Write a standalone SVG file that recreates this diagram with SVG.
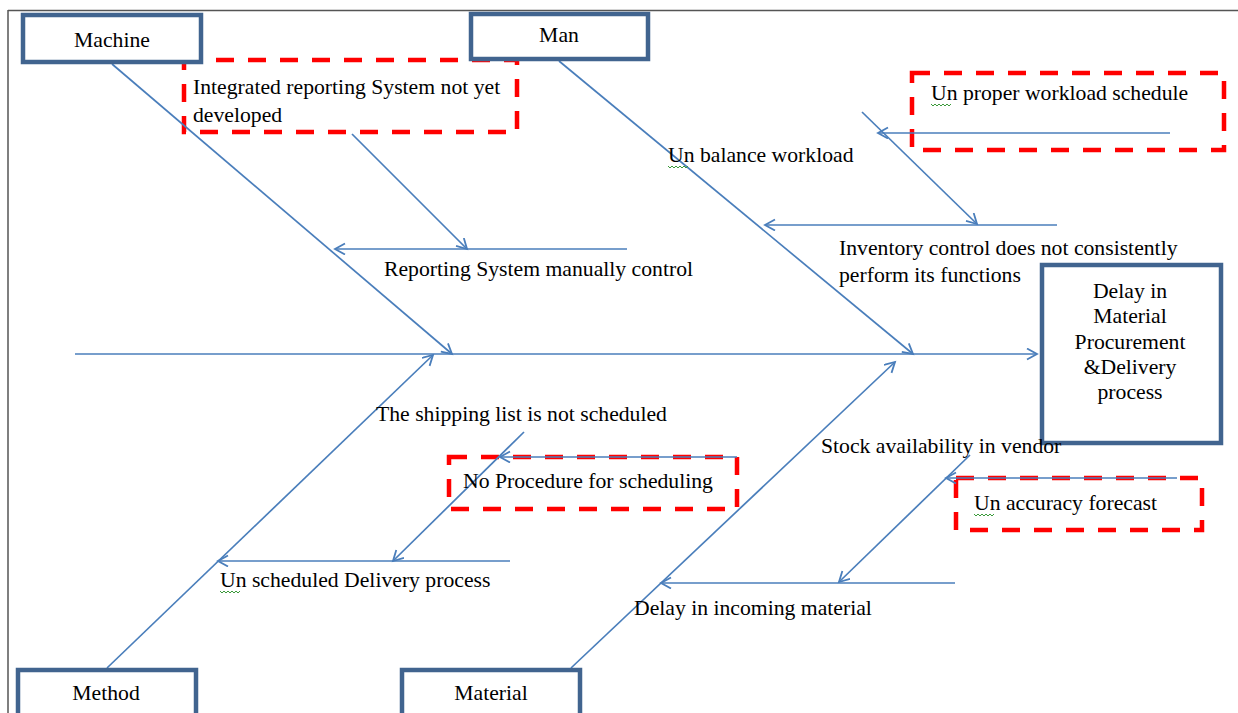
<svg xmlns="http://www.w3.org/2000/svg" width="1238" height="713" viewBox="0 0 1238 713">
<defs>
<marker id="arr" markerUnits="userSpaceOnUse" markerWidth="14" markerHeight="14" refX="11" refY="6" orient="auto">
<path d="M1,0.5 L11,6 L1,11.5" fill="none" stroke="#4a7ebb" stroke-width="1.8"/>
</marker>
<style>
text{font-family:"Liberation Serif","Times New Roman",serif;font-size:21.7px;fill:#000}
.box{fill:#fff;stroke:#41648f;stroke-width:4.5}
.cause{fill:none;stroke:#ff0000;stroke-width:4.5;stroke-dasharray:18 14}
.ln{fill:none;stroke:#4a7ebb;stroke-width:1.7}
.sq{fill:none;stroke:#3a9a3a;stroke-width:1}
.c{text-anchor:middle}
</style>
</defs>
<rect width="1238" height="713" fill="#fff"/>
<g id="frame">
<path d="M8,10.5 L1238,10.5 M8,10 L8,713" stroke="#555" stroke-width="1.5" fill="none"/>
</g>
<g id="cause-boxes">
<rect class="cause" x="184" y="60" width="333" height="72"/>
<rect class="cause" x="912" y="73" width="312" height="77"/>
<rect class="cause" x="449" y="457" width="288" height="52"/>
<rect class="cause" x="956" y="478" width="246" height="52"/>
</g>
<g id="connectors" class="ln">
<path class="ln" d="M75,354 L1037,354" marker-end="url(#arr)"/>
<path class="ln" d="M112,64 L452,354" marker-end="url(#arr)"/>
<path class="ln" d="M559,61 L913,354" marker-end="url(#arr)"/>
<path class="ln" d="M107,668 L433,355" marker-end="url(#arr)"/>
<path class="ln" d="M571,668 L895,362" marker-end="url(#arr)"/>
<path class="ln" d="M627,249 L335,249" marker-end="url(#arr)"/>
<path class="ln" d="M352,134 L467,249" marker-end="url(#arr)"/>
<path class="ln" d="M1170,133 L878,133" marker-end="url(#arr)"/>
<path class="ln" d="M862,112 L977,224" marker-end="url(#arr)"/>
<path class="ln" d="M1057,225 L765,225" marker-end="url(#arr)"/>
<path class="ln" d="M737,457 L500,457" marker-end="url(#arr)"/>
<path class="ln" d="M524,432 L393,561" marker-end="url(#arr)"/>
<path class="ln" d="M510,561 L218,561" marker-end="url(#arr)"/>
<path class="ln" d="M1177,478 L946,478" marker-end="url(#arr)"/>
<path class="ln" d="M970,455 L839,582" marker-end="url(#arr)"/>
<path class="ln" d="M955,583 L661,583" marker-end="url(#arr)"/>
</g>
<g id="machine">
<rect class="box" x="23" y="15" width="178" height="47"/>
<text class="c" x="112" y="47">Machine</text>
</g>
<g id="man">
<rect class="box" x="471" y="14" width="177" height="45"/>
<text class="c" x="559" y="42">Man</text>
</g>
<g id="method">
<rect class="box" x="18" y="670" width="178" height="60"/>
<text class="c" x="106" y="700">Method</text>
</g>
<g id="material">
<rect class="box" x="402" y="670" width="178" height="60"/>
<text class="c" x="491" y="700">Material</text>
</g>
<g id="effect">
<rect class="box" x="1042" y="265" width="179" height="178"/>
<text class="c" x="1130" y="298">Delay in</text>
<text class="c" x="1130" y="323">Material</text>
<text class="c" x="1130" y="349">Procurement</text>
<text class="c" x="1130" y="374">&amp;Delivery</text>
<text class="c" x="1130" y="399">process</text>
</g>
<g id="cause-integrated-reporting">
<text x="193" y="94">Integrated reporting System not yet</text>
<text x="193" y="122">developed</text>
</g>
<g id="cause-reporting-manual">
<text x="384" y="276">Reporting System manually control</text>
</g>
<g id="cause-unbalance">
<text x="668" y="162">Un balance workload</text>
</g>
<g id="cause-unproper">
<text x="931" y="100">Un proper workload schedule</text>
</g>
<g id="cause-inventory">
<text x="839" y="255">Inventory control does not consistently</text>
<text x="839" y="282">perform its functions</text>
</g>
<g id="cause-shipping">
<text x="376" y="421">The shipping list is not scheduled</text>
</g>
<g id="cause-no-procedure">
<text x="463" y="488">No Procedure for scheduling</text>
</g>
<g id="cause-unscheduled">
<text x="220" y="587">Un scheduled Delivery process</text>
</g>
<g id="cause-stock">
<text x="821" y="453">Stock availability in vendor</text>
</g>
<g id="cause-unaccuracy">
<text x="974" y="510">Un accuracy forecast</text>
</g>
<g id="cause-delay-incoming">
<text x="634" y="615">Delay in incoming material</text>
</g>
<g id="spellcheck-marks">
<path class="sq" d="M931,104 l2,2 l2,-2 l2,2 l2,-2 l2,2 l2,-2 l2,2 l2,-2 l2,2 l2,-2"/>
<path class="sq" d="M668,166 l2,2 l2,-2 l2,2 l2,-2 l2,2 l2,-2 l2,2 l2,-2 l2,2 l2,-2"/>
<path class="sq" d="M220,591 l2,2 l2,-2 l2,2 l2,-2 l2,2 l2,-2 l2,2 l2,-2 l2,2 l2,-2"/>
<path class="sq" d="M974,514 l2,2 l2,-2 l2,2 l2,-2 l2,2 l2,-2 l2,2 l2,-2 l2,2 l2,-2"/>
</g>
</svg>
